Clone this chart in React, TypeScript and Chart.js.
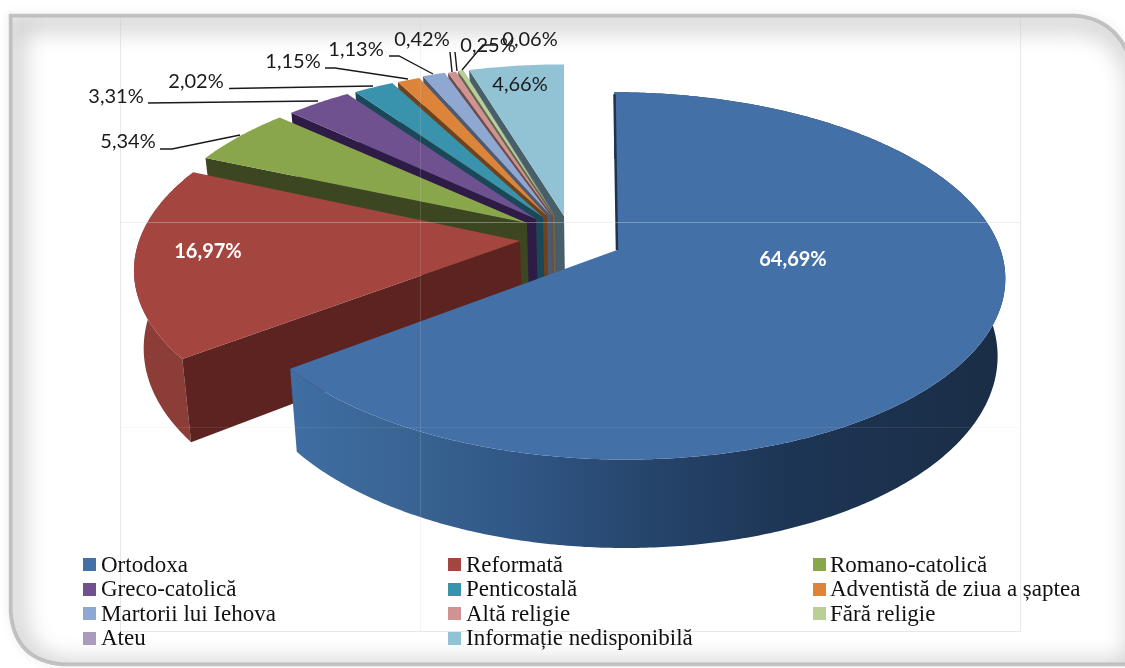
import React, { useEffect, useRef } from "react";
import { Chart, registerables } from "chart.js";

Chart.register(...registerables);

const categories = ["Ortodoxa", "Reformată", "Romano-catolică", "Greco-catolică", "Penticostală", "Adventistă de ziua a șaptea", "Martorii lui Iehova", "Altă religie", "Fără religie", "Ateu", "Informație nedisponibilă"];
const shares = [64.69, 16.97, 5.34, 3.31, 2.02, 1.15, 1.13, 0.42, 0.25, 0.06, 4.66];
const valueLabels = ["64,69%", "16,97%", "5,34%", "3,31%", "2,02%", "1,15%", "1,13%", "0,42%", "0,25%", "0,06%", "4,66%"];
const colors = ["#4470A8", "#A5453F", "#8AA64B", "#6F5190", "#3A93AC", "#DC843A", "#8FA8D1", "#D19392", "#B9CF96", "#A99BBD", "#92C3D5"];
const cutColors = ["#1E3350", "#5C2320", "#3C4620", "#2E1C46", "#1B4858", "#70421C", "#4C5A72", "#6C4C4C", "#5E6A4C", "#56506A", "#465F69"];

// Per-slice placement of the exploded 3D pie: apex x, apex y, rim centre x, radius x, radius y, rim shear
const apexX = [617, 520, 527, 536, 543, 547, 551, 553, 555, 556, 564];
const apexY = [250, 241, 223, 219, 217, 216, 216, 216, 216, 216, 216];
const rimX = [619, 517, 527, 536, 543, 547, 551, 553, 555, 556, 564];
const radiusX = [381.6, 378, 372, 368, 366, 362, 363, 358, 358, 366, 373];
const radiusY = [180, 179, 169, 170, 170, 170, 172, 172, 173, 173, 173];
const rimShear = [-5.7, 7.9, 0, 0, 0, 0, 0, 0, 0, 0, 0];
const PERSPECTIVE = 0.141;
const DEPTH = 76;

// Label centres and leader lines
const labelX = [793, 208, 128, 116, 196, 293, 356, 422, 488, 530, 520];
const labelY = [260, 252, 142, 97, 82, 62, 50, 40, 46, 40, 85];
const leaders: number[][][] = [
  [], [],
  [[160, 149], [172, 149], [240, 135]],
  [[148, 103], [318, 101]],
  [[229, 88.5], [373, 86]],
  [[325, 68], [335, 68], [408, 79]],
  [[389, 56], [399, 56], [433, 74]],
  [[450, 52], [452, 72]],
  [[455, 52], [457, 71]],
  [[497, 45], [483, 45], [462, 70]],
  [],
];

const legendSwatchX = [83, 448, 813];
const legendTextX = [101, 466, 830];
const legendSwatchY = [558, 583, 607, 632];
const legendBaseline = [571.5, 595.5, 620.5, 645];

function apexOf(i: number) {
  return { x: apexX[i], y: apexY[i], w: 1 };
}
function project(i: number, phi: number) {
  const X = Math.sin(phi);
  const Y = Math.cos(phi);
  const w = 1 + PERSPECTIVE * Y;
  return { x: rimX[i] + (radiusX[i] * X + rimShear[i] * Y) / w, y: apexY[i] - (radiusY[i] * Y) / w, w };
}
function drop(p: { x: number; y: number; w: number }) {
  return { x: p.x + (620 - p.x) * 0.02, y: p.y + DEPTH / p.w };
}
function rim(i: number, a: number, b: number) {
  const pts = [];
  const n = Math.max(2, Math.ceil(Math.abs(b - a) / 0.01));
  for (let k = 0; k <= n; k++) pts.push(project(i, a + ((b - a) * k) / n));
  return pts;
}
function fillPoly(ctx: CanvasRenderingContext2D, pts: { x: number; y: number }[], fill: any) {
  ctx.beginPath();
  pts.forEach((p, k) => (k ? ctx.lineTo(p.x, p.y) : ctx.moveTo(p.x, p.y)));
  ctx.closePath();
  ctx.fillStyle = fill;
  ctx.fill();
}

function framePath(ctx: CanvasRenderingContext2D) {
  ctx.beginPath();
  ctx.moveTo(10, 15);
  ctx.lineTo(1075, 15);
  ctx.quadraticCurveTo(1120, 18, 1134, 68);
  ctx.lineTo(1134, 665);
  ctx.lineTo(62, 665);
  ctx.quadraticCurveTo(14, 661, 10, 612);
  ctx.closePath();
}

const pie3d = {
  id: "pie3d",
  beforeDraw(chart: any) {
    const ctx: CanvasRenderingContext2D = chart.ctx;
    ctx.save();
    ctx.fillStyle = "#fff";
    ctx.fillRect(0, 0, chart.width, chart.height);
    // soft glow outside the frame
    ctx.save();
    framePath(ctx);
    ctx.shadowColor = "rgba(0,0,0,0.18)";
    ctx.shadowBlur = 10;
    ctx.lineWidth = 2;
    ctx.strokeStyle = "#c4c4c4";
    ctx.stroke();
    ctx.restore();
    // inner shade, heavier on the top and left
    ctx.save();
    framePath(ctx);
    ctx.clip();
    ctx.fillStyle = "#fff";
    ctx.fill();
    ctx.shadowColor = "rgba(0,0,0,0.75)";
    ctx.shadowBlur = 26;
    ctx.shadowOffsetX = 4;
    ctx.shadowOffsetY = 6;
    ctx.lineWidth = 5;
    ctx.strokeStyle = "#bdbdbd";
    framePath(ctx);
    ctx.stroke();
    ctx.restore();
    ctx.lineWidth = 2.5;
    ctx.strokeStyle = "#c2c2c2";
    framePath(ctx);
    ctx.stroke();
    ctx.restore();
  },
  beforeDatasetsDraw(chart: any) {
    const ctx: CanvasRenderingContext2D = chart.ctx;
    const arcs = chart.getDatasetMeta(0).data;
    ctx.save();
    for (let i = arcs.length - 1; i >= 0; i--) {
      const a = arcs[i].startAngle + Math.PI / 2;
      const b = arcs[i].endAngle + Math.PI / 2;
      const apex = apexOf(i);
      const edge = rim(i, a, b);
      // outer wall of the two front slices
      if (i === 0) {
        const wall = ctx.createLinearGradient(290, 0, 1005, 0);
        wall.addColorStop(0, "#3F6EA3");
        wall.addColorStop(0.15, "#3A6594");
        wall.addColorStop(0.35, "#2E5482");
        wall.addColorStop(0.5, "#26456B");
        wall.addColorStop(0.7, "#1D3555");
        wall.addColorStop(1, "#1A2D45");
        fillPoly(ctx, edge.concat(edge.map(drop).reverse()), wall);
      } else if (i === 1) {
        fillPoly(ctx, edge.concat(edge.map(drop).reverse()), "#8C3D38");
      }
      // cut wall at the start of the slice
      if (i > 0) {
        fillPoly(ctx, [apex, edge[0], drop(edge[0]), drop(apex)], cutColors[i]);
      }
      // top face
      fillPoly(ctx, [apex, ...edge], colors[i]);
      if (i === 0) {
        ctx.beginPath();
        ctx.moveTo(apex.x, apex.y);
        ctx.lineTo(edge[0].x + 0.5, edge[0].y + 2);
        ctx.strokeStyle = cutColors[0];
        ctx.lineWidth = 2.5;
        ctx.stroke();
      }
    }
    // faint seams of the scanned picture
    ctx.lineWidth = 1;
    const seam = (col: string, pts: number[][]) => {
      ctx.strokeStyle = col;
      ctx.beginPath();
      pts.forEach((p, k) => (k ? ctx.lineTo(p[0], p[1]) : ctx.moveTo(p[0], p[1])));
      ctx.stroke();
    };
    seam("rgba(205,205,205,0.45)", [[120.5, 17], [120.5, 631.5], [1020.5, 631.5], [1020.5, 17]]);
    seam("rgba(200,200,200,0.2)", [[420.5, 17], [420.5, 631]]);
    seam("rgba(215,215,215,0.4)", [[120, 222.5], [1020, 222.5]]);
    seam("rgba(200,200,200,0.12)", [[120, 427.5], [1020, 427.5]]);
    ctx.restore();
    return false;
  },
  afterDraw(chart: any) {
    const ctx: CanvasRenderingContext2D = chart.ctx;
    ctx.save();
    // leaders
    ctx.strokeStyle = "#1a1a1a";
    ctx.lineWidth = 1.4;
    leaders.forEach((line) => {
      if (!line.length) return;
      ctx.beginPath();
      line.forEach((p, k) => (k ? ctx.lineTo(p[0], p[1]) : ctx.moveTo(p[0], p[1])));
      ctx.stroke();
    });
    // data labels
    ctx.textAlign = "center";
    ctx.textBaseline = "middle";
    valueLabels.forEach((t, i) => {
      const inside = i < 2;
      ctx.font = (inside ? "bold " : "") + "20px Lato";
      ctx.fillStyle = inside ? "#ffffff" : "#1a1a1a";
      ctx.fillText(t, labelX[i], labelY[i]);
    });
    // legend
    ctx.textAlign = "left";
    ctx.textBaseline = "alphabetic";
    ctx.font = '23px "Liberation Serif"';
    categories.forEach((t, i) => {
      const col = i % 3;
      const row = Math.floor(i / 3);
      ctx.fillStyle = colors[i];
      ctx.fillRect(legendSwatchX[col], legendSwatchY[row], 13, 13);
      ctx.fillStyle = "#111111";
      ctx.fillText(t, legendTextX[col], legendBaseline[row]);
    });
    ctx.restore();
  },
};

export default function App() {
  const ref = useRef<HTMLCanvasElement>(null);
  useEffect(() => {
    const chart = new Chart(ref.current!, {
      type: "pie",
      data: {
        labels: categories,
        datasets: [{ data: shares, backgroundColor: colors, borderWidth: 0 }],
      },
      options: {
        responsive: false,
        animation: false,
        plugins: { legend: { display: false }, tooltip: { enabled: false } },
      },
      plugins: [pie3d],
    } as any);
    return () => chart.destroy();
  }, []);
  return (
    <div style={{ position: "fixed", left: 0, top: 0, width: 1125, height: 668, background: "#fff" }}>
      <canvas ref={ref} width={1125} height={668} style={{ display: "block" }} />
    </div>
  );
}
